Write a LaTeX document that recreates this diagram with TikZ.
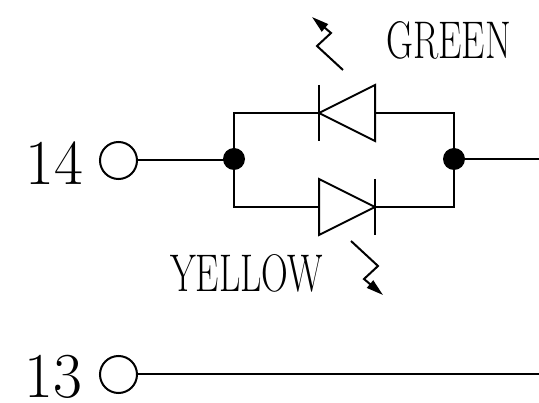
\documentclass[tikz,border=0pt]{standalone}
\usetikzlibrary{arrows.meta}
\tikzset{
  wire/.style={line width=2pt,line cap=butt},
  term/.style={circle,draw,line width=2pt,minimum size=37pt,inner sep=0pt,fill=white},
  dotj/.style={circle,fill=black,minimum size=22pt,inner sep=0pt},
  diode/.style={wire,line join=miter},
  ray/.style={line width=2pt,-{Triangle[length=17pt,width=9.5pt]}},
  lbl/.style={inner sep=0pt,text=black},
  pt/.style={inner sep=0pt,minimum size=0pt}
}
\newcommand{\biglbl}[2]{\scalebox{#1}[1]{\fontsize{53}{53}\selectfont #2}}
\newcommand{\numlbl}[1]{\scalebox{0.98}[1]{\fontsize{64}{64}\selectfont #1}}
\begin{document}
\begin{tikzpicture}[x=1pt,y=-1pt]
\useasboundingbox (0,0) rectangle (539,403);
\fill[white] (0,0) rectangle (539,403);
\node[term] (t14) at (118.5,160.5) {};
\node[term] (t13) at (118.5,374.5) {};
\node[dotj] (jl) at (234,159) {};
\node[dotj] (jr) at (454,159) {};
\coordinate (e14) at (539,159);
\coordinate (e13) at (539,374.5);
\node[pt] (ta) at (319,113) {};
\node[pt] (tb) at (375,113) {};
\node[pt] (ba) at (319,207) {};
\node[pt] (bb) at (375,207) {};
% wires
\draw[wire] (t14.east) -- (t14.east -| jl.center);
\draw[wire] (jr) -- (e14);
\draw[wire] (t13) -- (e13);
\draw[wire] (jl.center) |- (ta.center);
\draw[wire] (jl.center) |- (ba.center);
\draw[wire] (jr.center) |- (tb.center);
\draw[wire] (jr.center) |- (bb.center);
% top diode (points left)
\draw[diode] (ta.center) -- (375,85) -- (375,141) -- cycle;
\draw[diode] (319,85) -- (319,141);
% bottom diode (points right)
\draw[diode] (bb.center) -- (319,179) -- (319,235) -- cycle;
\draw[diode] (375,179) -- (375,235);
% light rays
\draw[ray] (343,70) -- (317,46) -- (331,33) -- (312,17);
\draw[ray] (351,241) -- (378,266) -- (364,279) -- (383,295);
% labels
\node[lbl] (green) at (448.5,40) {\biglbl{0.70}{GREEN}};
\node[lbl] (yellow) at (246.5,273.5) {\biglbl{0.70}{YELLOW}};
\node[lbl] (n14) at (54.5,163) {\numlbl{14}};
\node[lbl] (n13) at (53.5,376.5) {\numlbl{13}};
\end{tikzpicture}
\end{document}
